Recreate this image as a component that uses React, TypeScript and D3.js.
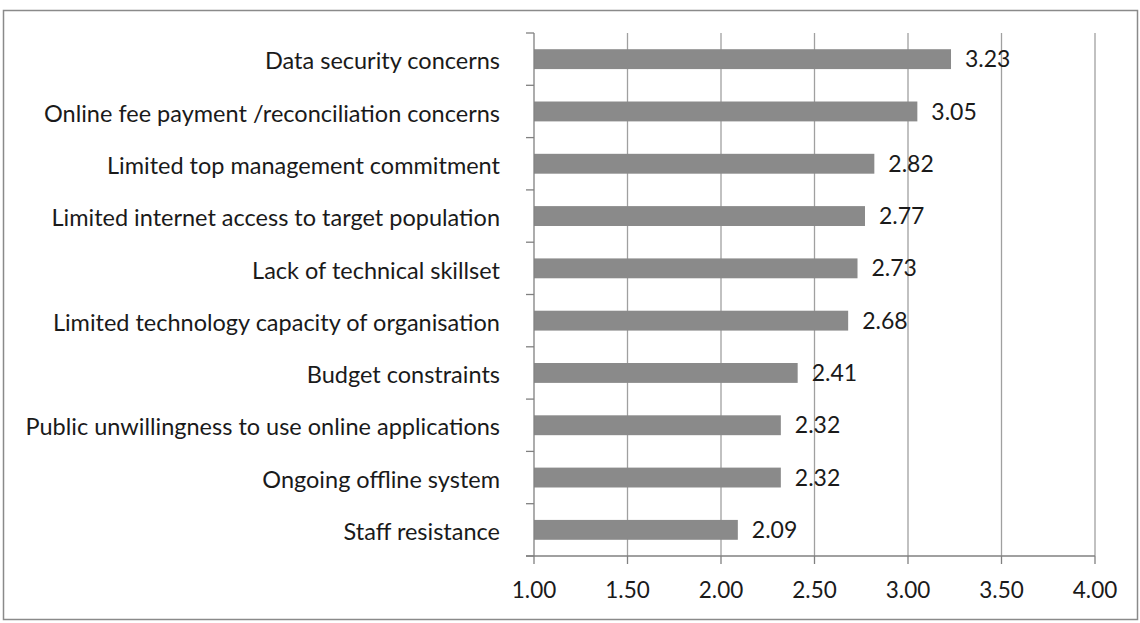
import React from "react";
import * as d3 from "d3";

const categories = [
  "Data security concerns",
  "Online fee payment /reconciliation concerns",
  "Limited top management commitment",
  "Limited internet access to target population",
  "Lack of technical skillset",
  "Limited technology capacity of organisation",
  "Budget constraints",
  "Public unwillingness to use online applications",
  "Ongoing offline system",
  "Staff resistance",
];
const values = [3.23, 3.05, 2.82, 2.77, 2.73, 2.68, 2.41, 2.32, 2.32, 2.09];
const xTicks = [1.0, 1.5, 2.0, 2.5, 3.0, 3.5, 4.0];

const W = 1140;
const H = 623;
const left = 534;
const right = 1095;
const top = 33;
const bottom = 556;
const FONT = "Lato, 'Open Sans', sans-serif";

export default function App() {
  const x = d3.scaleLinear().domain([1, 4]).range([left, right]);
  const y = d3
    .scaleBand<string>()
    .domain(categories)
    .range([top, bottom])
    .paddingInner(0.62)
    .paddingOuter(0.31);
  const step = (bottom - top) / categories.length;
  const boundaries = d3.range(categories.length + 1).map((i) => top + i * step);

  return (
    <svg
      width={W}
      height={H}
      style={{ position: "absolute", left: 0, top: 0, background: "#fff" }}
    >
      <rect x={3.5} y={10.5} width={1134} height={609} fill="none" stroke="#8a8a8a" strokeWidth={1.5} />
      {xTicks.slice(1).map((t) => (
        <line key={"g" + t} x1={x(t)} x2={x(t)} y1={top} y2={bottom} stroke="#a0a0a0" strokeWidth={1.3} />
      ))}
      {categories.map((c, i) => (
        <rect
          key={c}
          x={x(1)}
          y={y(c)!}
          width={x(values[i]) - x(1)}
          height={y.bandwidth()}
          fill="#8a8a8a"
        />
      ))}
      <line x1={left} x2={left} y1={top} y2={bottom} stroke="#808080" strokeWidth={1.3} />
      {boundaries.map((b, i) => (
        <line key={"t" + i} x1={left - 8} x2={left} y1={b} y2={b} stroke="#808080" strokeWidth={1.3} />
      ))}
      <line x1={left - 8} x2={right} y1={bottom} y2={bottom} stroke="#808080" strokeWidth={1.3} />
      {xTicks.map((t) => (
        <line key={"xt" + t} x1={x(t)} x2={x(t)} y1={bottom} y2={bottom + 8} stroke="#808080" strokeWidth={1.3} />
      ))}
      {xTicks.map((t) => (
        <text
          key={"xl" + t}
          x={x(t)}
          y={598}
          textAnchor="middle"
          fontFamily={FONT}
          fontSize={22.5}
          fill="#1a1a1a"
        >
          {t.toFixed(2)}
        </text>
      ))}
      {categories.map((c) => (
        <text
          key={"cl" + c}
          x={500}
          y={y(c)! + y.bandwidth() / 2 + 2}
          dy="0.35em"
          textAnchor="end"
          fontFamily={FONT}
          fontSize={23.5}
          fill="#1a1a1a"
        >
          {c}
        </text>
      ))}
      {categories.map((c, i) => (
        <text
          key={"vl" + c}
          x={x(values[i]) + 14}
          y={y(c)! + y.bandwidth() / 2}
          dy="0.35em"
          textAnchor="start"
          fontFamily={FONT}
          fontSize={23}
          fill="#1a1a1a"
        >
          {values[i].toFixed(2)}
        </text>
      ))}
    </svg>
  );
}
